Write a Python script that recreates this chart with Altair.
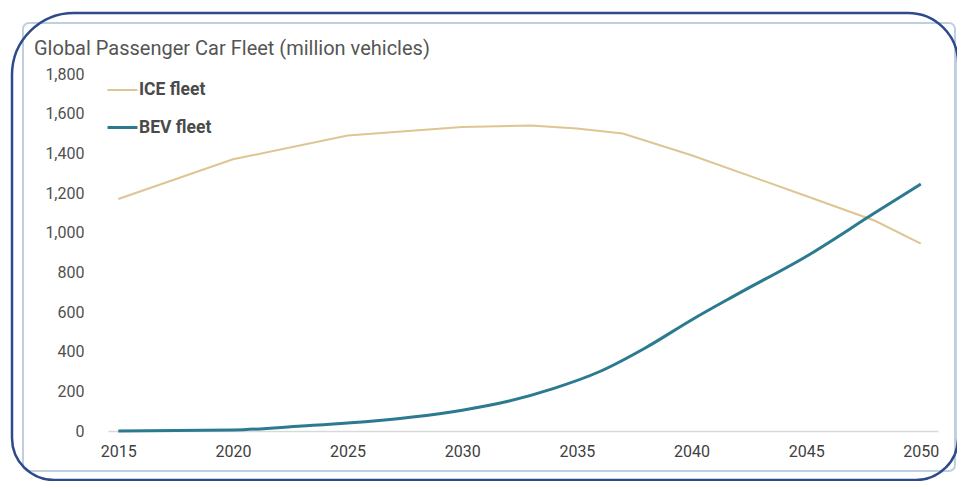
import altair as alt
import pandas as pd

ice_years = [2015, 2020, 2025, 2030, 2033, 2035, 2037, 2040, 2045, 2048, 2050]
ice_values = [1170, 1370, 1490, 1533, 1540, 1525, 1500, 1390, 1185, 1060, 945]

bev_years = [2015, 2020, 2023, 2025, 2030, 2032, 2034, 2036, 2038, 2040, 2042, 2045, 2048, 2050]
bev_values = [0, 5, 25, 40, 105, 150, 215, 300, 420, 560, 690, 880, 1100, 1245]

series_names = ["ICE fleet", "BEV fleet"]
series_colors = ["#DEC594", "#2B7A90"]
x_ticks = [2015, 2020, 2025, 2030, 2035, 2040, 2045, 2050]
y_ticks = [0, 200, 400, 600, 800, 1000, 1200, 1400, 1600, 1800]
title_text = "Global Passenger Car Fleet (million vehicles)"

ice_df = pd.DataFrame({"year": ice_years, "value": ice_values, "series": series_names[0]})
bev_df = pd.DataFrame({"year": bev_years, "value": bev_values, "series": series_names[1]})

W, H = 830, 357
FONT = "Roboto"

x_enc = alt.X("year:Q", scale=alt.Scale(domain=[2014.55, 2050.75], nice=False, zero=False),
              axis=alt.Axis(values=x_ticks, format="d", title=None, grid=False, ticks=False,
                            domainColor="#D9D9D9", domainWidth=1.5, labelPadding=12,
                            labelFontSize=16, labelColor="#404040", labelFont=FONT))
y_enc = alt.Y("value:Q", scale=alt.Scale(domain=[0, 1800], nice=False),
              axis=alt.Axis(values=y_ticks, format=",.0f", title=None, grid=False, ticks=False,
                            domain=False, labelPadding=24, labelFontSize=16,
                            labelColor="#505050", labelFont=FONT))
color_enc = alt.Color("series:N", scale=alt.Scale(domain=series_names, range=series_colors),
                      legend=alt.Legend(title=None, orient="none", legendX=-2, legendY=0,
                                        symbolType="stroke", symbolSize=900,
                                        labelFontSize=17.5, labelFontWeight="bold",
                                        labelColor="#4A4A4A", labelFont=FONT,
                                        labelOffset=0, rowPadding=12))
sw_enc = alt.StrokeWidth("series:N", scale=alt.Scale(domain=series_names, range=[2, 3]),
                         legend=None)

frame_df = pd.DataFrame({"k": [0]})
outer = alt.Chart(frame_df).mark_rect(
    filled=False, stroke="#2E4A8B", strokeWidth=2.5,
    cornerRadiusTopLeft=62, cornerRadiusTopRight=50,
    cornerRadiusBottomLeft=42, cornerRadiusBottomRight=42,
).encode(x=alt.value(-96), x2=alt.value(850), y=alt.value(-61), y2=alt.value(406))

inner = alt.Chart(frame_df).mark_rect(
    filled=False, stroke="#BCD0E2", strokeWidth=2, cornerRadius=6,
).encode(x=alt.value(-85), x2=alt.value(847), y=alt.value(-51), y2=alt.value(397))

title = alt.Chart(frame_df).mark_text(
    text=title_text, align="left", baseline="alphabetic", fontSize=20,
    font=FONT, color="#555555",
).encode(x=alt.value(-74), y=alt.value(-19))

ice_line = alt.Chart(ice_df).mark_line(interpolate="linear").encode(
    x=x_enc, y=y_enc, color=color_enc, strokeWidth=sw_enc)
bev_line = alt.Chart(bev_df).mark_line(interpolate="monotone").encode(
    x=x_enc, y=y_enc, color=color_enc, strokeWidth=sw_enc)

chart = alt.layer(inner, outer, title, ice_line, bev_line).properties(
    width=W, height=H,
    autosize=alt.AutoSizeParams(type="none"),
    padding={"left": 100, "top": 66, "right": 19, "bottom": 50},
).configure_view(stroke=None)

chart.save("out.html", embed_options={"renderer": "svg", "actions": False})
